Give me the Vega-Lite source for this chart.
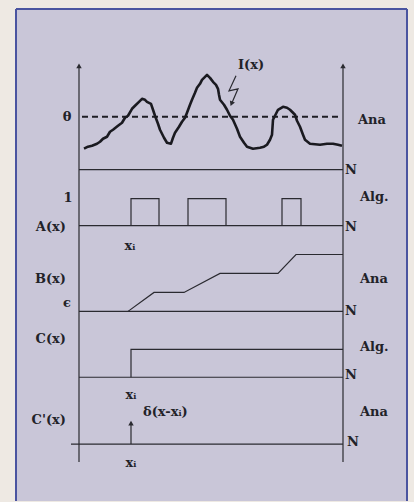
{
  "$schema": "https://vega.github.io/schema/vega-lite/v6.json",
  "width": 414,
  "height": 502,
  "padding": 0,
  "autosize": {"type": "fit", "contains": "padding"},
  "background": "#eee9e3",
  "config": {"view": {"stroke": null}},
  "datasets": {
    "frame": [{"x": 16, "x2": 407, "y": 9, "y2": 502}],
    "border": [
      {"x": 16, "y": 9, "x2": 407, "y2": 9},
      {"x": 16, "y": 9, "x2": 16, "y2": 502},
      {"x": 407, "y": 9, "x2": 407, "y2": 502}
    ],
    "segments": [
      {"x": 79, "y": 66, "x2": 79, "y2": 463},
      {"x": 343, "y": 66, "x2": 343, "y2": 463},
      {"x": 79, "y": 170, "x2": 343, "y2": 170},
      {"x": 79, "y": 226, "x2": 343, "y2": 226},
      {"x": 79, "y": 312, "x2": 343, "y2": 312},
      {"x": 79, "y": 378, "x2": 343, "y2": 378},
      {"x": 71, "y": 445, "x2": 343, "y2": 445},
      {"x": 131, "y": 445, "x2": 131, "y2": 425}
    ],
    "threshold": [{"x": 82, "y": 117, "x2": 341, "y2": 117}],
    "signal": [
      {"o": 1, "x": 84, "y": 149}, {"o": 2, "x": 88, "y": 147}, {"o": 3, "x": 92, "y": 146},
      {"o": 4, "x": 97, "y": 144}, {"o": 5, "x": 100, "y": 142}, {"o": 6, "x": 103, "y": 139},
      {"o": 7, "x": 107, "y": 137}, {"o": 8, "x": 110, "y": 132}, {"o": 9, "x": 113, "y": 130},
      {"o": 10, "x": 118, "y": 126}, {"o": 11, "x": 122, "y": 123}, {"o": 12, "x": 125, "y": 118},
      {"o": 13, "x": 128, "y": 116}, {"o": 14, "x": 132, "y": 109}, {"o": 15, "x": 135, "y": 106},
      {"o": 16, "x": 139, "y": 102}, {"o": 17, "x": 142, "y": 99}, {"o": 18, "x": 145, "y": 100},
      {"o": 19, "x": 147, "y": 102}, {"o": 20, "x": 151, "y": 104}, {"o": 21, "x": 153, "y": 110},
      {"o": 22, "x": 155, "y": 116}, {"o": 23, "x": 158, "y": 124}, {"o": 24, "x": 160, "y": 130},
      {"o": 25, "x": 164, "y": 138}, {"o": 26, "x": 167, "y": 143}, {"o": 27, "x": 171, "y": 144},
      {"o": 28, "x": 173, "y": 138}, {"o": 29, "x": 175, "y": 133}, {"o": 30, "x": 179, "y": 127},
      {"o": 31, "x": 182, "y": 122}, {"o": 32, "x": 185, "y": 118}, {"o": 33, "x": 187, "y": 113},
      {"o": 34, "x": 190, "y": 105}, {"o": 35, "x": 192, "y": 100}, {"o": 36, "x": 195, "y": 93},
      {"o": 37, "x": 197, "y": 88}, {"o": 38, "x": 200, "y": 84}, {"o": 39, "x": 202, "y": 80},
      {"o": 40, "x": 205, "y": 77}, {"o": 41, "x": 207, "y": 75}, {"o": 42, "x": 210, "y": 78},
      {"o": 43, "x": 213, "y": 82}, {"o": 44, "x": 216, "y": 85}, {"o": 45, "x": 218, "y": 89},
      {"o": 46, "x": 219, "y": 95}, {"o": 47, "x": 220, "y": 100}, {"o": 48, "x": 224, "y": 105},
      {"o": 49, "x": 227, "y": 110}, {"o": 50, "x": 230, "y": 116}, {"o": 51, "x": 233, "y": 120},
      {"o": 52, "x": 237, "y": 129}, {"o": 53, "x": 240, "y": 137}, {"o": 54, "x": 244, "y": 143},
      {"o": 55, "x": 247, "y": 147}, {"o": 56, "x": 253, "y": 149}, {"o": 57, "x": 260, "y": 148},
      {"o": 58, "x": 264, "y": 147}, {"o": 59, "x": 267, "y": 145}, {"o": 60, "x": 270, "y": 140},
      {"o": 61, "x": 272, "y": 135}, {"o": 62, "x": 273, "y": 120}, {"o": 63, "x": 276, "y": 114},
      {"o": 64, "x": 278, "y": 110}, {"o": 65, "x": 283, "y": 107}, {"o": 66, "x": 287, "y": 108},
      {"o": 67, "x": 290, "y": 110}, {"o": 68, "x": 295, "y": 115}, {"o": 69, "x": 297, "y": 121},
      {"o": 70, "x": 300, "y": 127}, {"o": 71, "x": 303, "y": 135}, {"o": 72, "x": 305, "y": 140},
      {"o": 73, "x": 310, "y": 144}, {"o": 74, "x": 320, "y": 145}, {"o": 75, "x": 327, "y": 144},
      {"o": 76, "x": 333, "y": 144}, {"o": 77, "x": 338, "y": 145}, {"o": 78, "x": 342, "y": 146}
    ],
    "polylines": [
      {"s": "a1", "o": 1, "x": 131, "y": 226}, {"s": "a1", "o": 2, "x": 131, "y": 199},
      {"s": "a1", "o": 3, "x": 159, "y": 199}, {"s": "a1", "o": 4, "x": 159, "y": 226},
      {"s": "a2", "o": 1, "x": 188, "y": 226}, {"s": "a2", "o": 2, "x": 188, "y": 199},
      {"s": "a2", "o": 3, "x": 226, "y": 199}, {"s": "a2", "o": 4, "x": 226, "y": 226},
      {"s": "a3", "o": 1, "x": 282, "y": 226}, {"s": "a3", "o": 2, "x": 282, "y": 199},
      {"s": "a3", "o": 3, "x": 301, "y": 199}, {"s": "a3", "o": 4, "x": 301, "y": 226},
      {"s": "b", "o": 1, "x": 128, "y": 312}, {"s": "b", "o": 2, "x": 154, "y": 293},
      {"s": "b", "o": 3, "x": 184, "y": 293}, {"s": "b", "o": 4, "x": 220, "y": 274},
      {"s": "b", "o": 5, "x": 278, "y": 274}, {"s": "b", "o": 6, "x": 296, "y": 255},
      {"s": "b", "o": 7, "x": 343, "y": 255},
      {"s": "c", "o": 1, "x": 131, "y": 378}, {"s": "c", "o": 2, "x": 131, "y": 350},
      {"s": "c", "o": 3, "x": 343, "y": 350},
      {"s": "z", "o": 1, "x": 236, "y": 76}, {"s": "z", "o": 2, "x": 229, "y": 91},
      {"s": "z", "o": 3, "x": 238, "y": 89}, {"s": "z", "o": 4, "x": 232, "y": 103}
    ],
    "arrows": [
      {"x": 79, "y": 66, "r": 0},
      {"x": 343, "y": 66, "r": 0},
      {"x": 131, "y": 424, "r": 0},
      {"x": 231.5, "y": 104, "r": 202}
    ],
    "labelsLeft": [
      {"x": 358, "y": 120, "t": "Ana"},
      {"x": 345, "y": 170, "t": "N"},
      {"x": 360, "y": 197, "t": "Alg."},
      {"x": 345, "y": 227, "t": "N"},
      {"x": 360, "y": 280, "t": "Ana"},
      {"x": 345, "y": 312, "t": "N"},
      {"x": 360, "y": 348, "t": "Alg."},
      {"x": 345, "y": 376, "t": "N"},
      {"x": 143, "y": 413, "t": "δ(x-xᵢ)"},
      {"x": 360, "y": 413, "t": "Ana"},
      {"x": 347, "y": 443, "t": "N"}
    ],
    "labelsCenter": [
      {"x": 251, "y": 65, "t": "I(x)"},
      {"x": 67, "y": 117, "t": "θ"},
      {"x": 68, "y": 198, "t": "1"},
      {"x": 130, "y": 246, "t": "xᵢ"},
      {"x": 67, "y": 304, "t": "ϵ"},
      {"x": 131, "y": 396, "t": "xᵢ"},
      {"x": 131, "y": 464, "t": "xᵢ"}
    ],
    "labelsRight": [
      {"x": 66, "y": 227, "t": "A(x)"},
      {"x": 66, "y": 280, "t": "B(x)"},
      {"x": 66, "y": 340, "t": "C(x)"},
      {"x": 66, "y": 421, "t": "C'(x)"}
    ]
  },
  "encoding": {
    "x": {"field": "x", "type": "quantitative", "scale": {"domain": [0, 414], "nice": false, "zero": false}, "axis": null},
    "y": {"field": "y", "type": "quantitative", "scale": {"domain": [502, 0], "nice": false, "zero": false}, "axis": null}
  },
  "layer": [
    {
      "data": {"name": "frame"},
      "mark": {"type": "rect", "fill": "#c9c6d8"},
      "encoding": {"x2": {"field": "x2"}, "y2": {"field": "y2"}}
    },
    {
      "data": {"name": "border"},
      "mark": {"type": "rule", "color": "#4a54a0", "strokeWidth": 2},
      "encoding": {"x2": {"field": "x2"}, "y2": {"field": "y2"}}
    },
    {
      "data": {"name": "segments"},
      "mark": {"type": "rule", "color": "#2a2a30", "strokeWidth": 1.2},
      "encoding": {"x2": {"field": "x2"}, "y2": {"field": "y2"}}
    },
    {
      "data": {"name": "threshold"},
      "mark": {"type": "rule", "color": "#1e1e24", "strokeWidth": 2, "strokeDash": [6, 4]},
      "encoding": {"x2": {"field": "x2"}, "y2": {"field": "y2"}}
    },
    {
      "data": {"name": "signal"},
      "mark": {"type": "line", "color": "#1a1a20", "strokeWidth": 2.6, "strokeJoin": "round"},
      "encoding": {"order": {"field": "o", "type": "quantitative"}}
    },
    {
      "data": {"name": "polylines"},
      "mark": {"type": "line", "color": "#2a2a30", "strokeWidth": 1.2},
      "encoding": {
        "detail": {"field": "s", "type": "nominal"},
        "order": {"field": "o", "type": "quantitative"}
      }
    },
    {
      "data": {"name": "arrows"},
      "mark": {"type": "point", "shape": "triangle-up", "filled": true, "color": "#2a2a30", "size": 30, "opacity": 1},
      "encoding": {"angle": {"field": "r", "type": "quantitative", "scale": null}}
    },
    {
      "data": {"name": "labelsLeft"},
      "mark": {"type": "text", "align": "left", "baseline": "middle", "font": "DejaVu Serif", "fontWeight": "bold", "fontSize": 13, "color": "#222228"},
      "encoding": {"text": {"field": "t"}}
    },
    {
      "data": {"name": "labelsCenter"},
      "mark": {"type": "text", "align": "center", "baseline": "middle", "font": "DejaVu Serif", "fontWeight": "bold", "fontSize": 13, "color": "#222228"},
      "encoding": {"text": {"field": "t"}}
    },
    {
      "data": {"name": "labelsRight"},
      "mark": {"type": "text", "align": "right", "baseline": "middle", "font": "DejaVu Serif", "fontWeight": "bold", "fontSize": 13, "color": "#222228"},
      "encoding": {"text": {"field": "t"}}
    }
  ]
}
